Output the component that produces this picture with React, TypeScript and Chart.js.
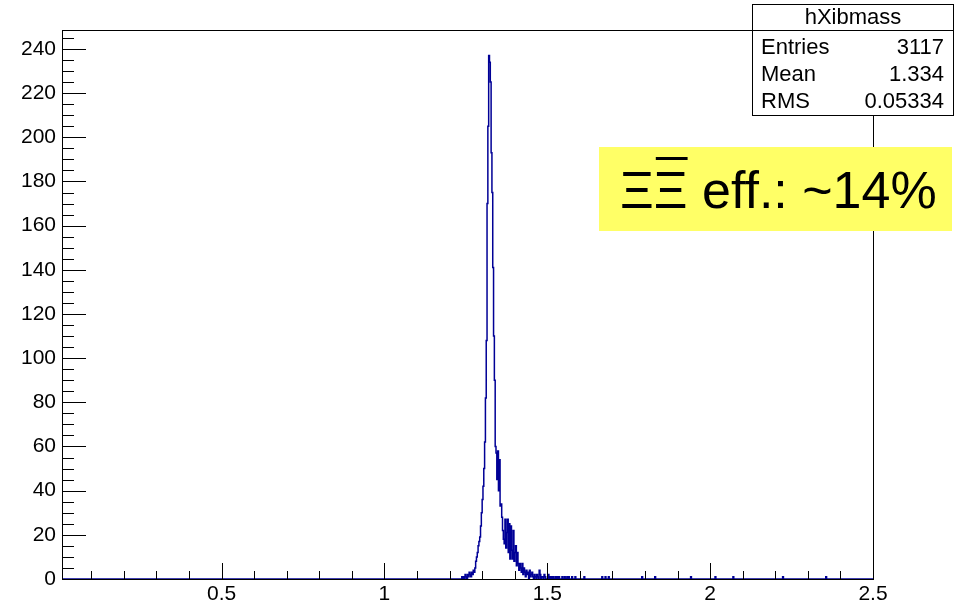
import { useEffect, useRef } from "react";
import { Chart, registerables } from "chart.js";

Chart.register(...registerables);

// ---- axis ranges / ticks ----
const X_MIN = 0.01;
const X_MAX = 2.5;
const Y_MAX = 248.6;
const BIN_WIDTH = 0.0025;
const N_BINS = 1000;
const xTickLabels = [0.5, 1, 1.5, 2, 2.5];
const yTickLabels = [0, 20, 40, 60, 80, 100, 120, 140, 160, 180, 200, 220, 240];
const xMinorStep = 0.1;
const yMinorStep = 5;

// ---- histogram contents (dense region, bins of BIN_WIDTH starting at peakStart) ----
const peakStart = 1.2375;
const peakCounts = [
  1, 0, 1, 0, 2, 1, 0, 2, 1, 3, 2, 1, 3, 2, 4, 3, 5,
  8, 10, 12, 15, 17, 19, 24, 30, 36, 42, 50, 62, 82, 108,
  170, 205, 237, 234, 225, 193, 175, 141, 110, 90,
  60, 57, 45, 58, 40, 54, 33, 34, 28, 22, 18, 16, 27, 14, 21, 27, 12, 25, 9, 24,
  13, 9, 22, 8, 12, 15, 6, 12, 7,
  4, 7, 5, 3, 7, 2, 5, 3, 1, 4, 2, 3, 0, 4, 1, 2, 3, 1, 0, 2, 1, 0, 2, 1, 0, 4,
  2, 0, 1, 1, 0, 2, 1, 0,
];
// sparse tail entries (bin low edges and counts)
const tailEdges = [
  1.5025, 1.5075, 1.5125, 1.5175, 1.525, 1.53, 1.535, 1.545, 1.5525, 1.56, 1.565,
  1.575, 1.585, 1.6125, 1.6675, 1.6775, 1.6875, 1.79, 1.83, 1.94, 2.015, 2.07,
  2.2225, 2.355,
];
const tailCounts = [
  2, 1, 1, 1, 1, 1, 1, 1, 1, 1, 1, 1, 1, 1, 1, 1, 1, 1, 1, 1, 1, 1, 1, 1,
];

// ---- stats box & label ----
const statsTitle = "hXibmass";
const statsNames = ["Entries", "Mean", "RMS"];
const statsValues = ["3117", "1.334", "0.05334"];
const labelXi = "Ξ";
const labelRest = " eff.: ~14%";

const FONT = '"Liberation Sans", Arial, Helvetica, sans-serif';

function buildHistogram() {
  const counts: number[] = new Array(N_BINS).fill(0);
  const p0 = Math.round(peakStart / BIN_WIDTH);
  peakCounts.forEach((c, k) => {
    counts[p0 + k] += c;
  });
  tailEdges.forEach((e, i) => {
    counts[Math.round(e / BIN_WIDTH)] += tailCounts[i];
  });
  const pts = counts.map((c, i) => ({ x: i * BIN_WIDTH, y: c }));
  pts.push({ x: N_BINS * BIN_WIDTH, y: 0 });
  return pts;
}

const rootPlugin = {
  id: "rootStyle",
  afterDraw(chart: any) {
    const ctx: CanvasRenderingContext2D = chart.ctx;
    const area = chart.chartArea;
    const xs = chart.scales.x;
    const ys = chart.scales.y;
    ctx.save();
    ctx.strokeStyle = "#000";
    ctx.lineWidth = 1;
    // y ticks (inside)
    ctx.beginPath();
    for (let v = 0; v <= Y_MAX + 1e-9; v += yMinorStep) {
      const y = Math.round(ys.getPixelForValue(v)) + 0.5;
      const major = Math.abs(v % 20) < 1e-6;
      const len = major ? 24 : 12;
      ctx.moveTo(area.left, y);
      ctx.lineTo(area.left + len, y);
    }
    // x ticks (inside)
    for (let i = 1; i * xMinorStep <= X_MAX + 1e-9; i++) {
      const v = i * xMinorStep;
      const x = Math.round(xs.getPixelForValue(v)) + 0.5;
      const major = i % 5 === 0;
      const len = major ? 16 : 8;
      ctx.moveTo(x, area.bottom);
      ctx.lineTo(x, area.bottom - len);
    }
    ctx.stroke();
    // frame
    ctx.strokeRect(
      Math.round(area.left) + 0.5,
      Math.round(area.top) + 0.5,
      Math.round(area.right - area.left),
      Math.round(area.bottom - area.top)
    );

    // stats box
    const bx = 752.5, by = 4.5, bw = 201, bh = 111;
    ctx.fillStyle = "#fff";
    ctx.fillRect(bx, by, bw, bh);
    ctx.strokeRect(bx, by, bw, bh);
    ctx.beginPath();
    ctx.moveTo(bx, 30.5);
    ctx.lineTo(bx + bw, 30.5);
    ctx.stroke();
    ctx.fillStyle = "#000";
    ctx.font = `22px ${FONT}`;
    ctx.textBaseline = "middle";
    ctx.textAlign = "center";
    ctx.fillText(statsTitle, bx + bw / 2, 18);
    const rowY = [48, 75, 102];
    statsNames.forEach((n, i) => {
      ctx.textAlign = "left";
      ctx.fillText(n, 761, rowY[i]);
      ctx.textAlign = "right";
      ctx.fillText(statsValues[i], 944, rowY[i]);
    });

    // yellow label
    ctx.fillStyle = "#ffff66";
    ctx.fillRect(599, 147, 353, 84);
    ctx.fillStyle = "#000";
    ctx.font = `52px ${FONT}`;
    ctx.textAlign = "left";
    ctx.textBaseline = "alphabetic";
    const base = 208;
    let x = 620;
    const wXi = ctx.measureText(labelXi).width;
    ctx.fillText(labelXi, x, base);
    x += wXi;
    ctx.fillText(labelXi, x, base);
    ctx.fillRect(x + 2, 157, wXi - 2, 3);
    x += wXi;
    ctx.fillText(labelRest, x, base);
    ctx.restore();
  },
};

export default function App() {
  const ref = useRef<HTMLCanvasElement | null>(null);
  useEffect(() => {
    document.body.style.margin = "0";
    const canvas = ref.current!;
    const chart = new Chart(canvas, {
      type: "line",
      data: {
        datasets: [
          {
            data: buildHistogram(),
            borderColor: "#000096",
            borderWidth: 1.5,
            pointRadius: 0,
            stepped: true,
            fill: false,
            tension: 0,
          } as any,
        ],
      },
      options: {
        animation: false,
        responsive: false,
        devicePixelRatio: 1,
        layout: { padding: { top: 30, right: 93, left: 0, bottom: 0 } },
        plugins: {
          legend: { display: false },
          tooltip: { enabled: false },
        },
        scales: {
          x: {
            type: "linear",
            min: X_MIN,
            max: X_MAX,
            grid: { display: false, drawTicks: false },
            border: { display: false },
            afterBuildTicks: (s: any) => {
              s.ticks = xTickLabels.map((v) => ({ value: v }));
            },
            afterFit: (s: any) => {
              s.height = 27;
            },
            ticks: {
              color: "#000",
              font: { family: FONT, size: 21 },
              padding: 3,
              maxRotation: 0,
              autoSkip: false,
              callback: (v: any) => String(v),
            },
          },
          y: {
            type: "linear",
            min: 0,
            max: Y_MAX,
            grid: { display: false, drawTicks: false },
            border: { display: false },
            afterBuildTicks: (s: any) => {
              s.ticks = yTickLabels.map((v) => ({ value: v }));
            },
            afterFit: (s: any) => {
              s.width = 62;
            },
            ticks: {
              color: "#000",
              font: { family: FONT, size: 21 },
              padding: 6,
              autoSkip: false,
              callback: (v: any) => String(v),
            },
          },
        },
      },
      plugins: [rootPlugin],
    });
    return () => chart.destroy();
  }, []);
  return (
    <div style={{ width: 966, height: 606, background: "#fff" }}>
      <canvas ref={ref} width={966} height={606} style={{ display: "block" }} />
    </div>
  );
}
